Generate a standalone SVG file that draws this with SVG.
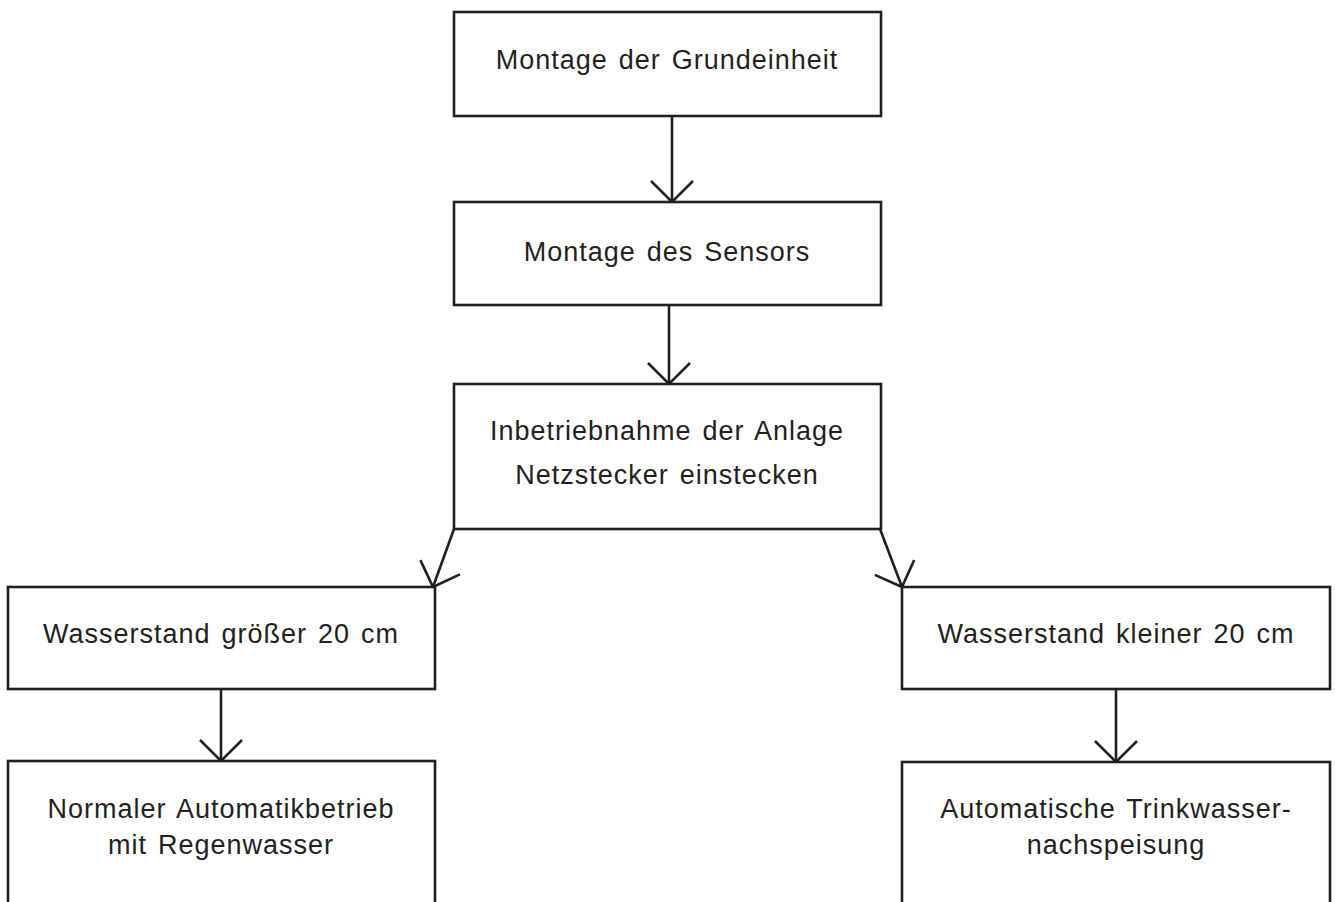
<svg xmlns="http://www.w3.org/2000/svg" width="1335" height="902" viewBox="0 0 1335 902">
<style>
.box{fill:#fff;stroke:#231f20;stroke-width:2.6}
.t{font-family:"Liberation Sans",Arial,sans-serif;font-size:27px;fill:#231f20;text-anchor:middle;letter-spacing:1px;word-spacing:2.5px}
.c{fill:none;stroke:#231f20;stroke-width:2.6}
</style>
<defs>
<marker id="a" markerUnits="userSpaceOnUse" markerWidth="50" markerHeight="50" refX="25" refY="25" orient="auto" viewBox="0 0 50 50" overflow="visible">
<path d="M4,4 L25,25 L4,46" fill="none" stroke="#231f20" stroke-width="2.6"/>
</marker>
</defs>
<rect width="1335" height="902" fill="#fff"/>
<g id="connectors">
<line class="c" x1="672" y1="116" x2="672" y2="202" marker-end="url(#a)"/>
<line class="c" x1="669" y1="305" x2="669" y2="384" marker-end="url(#a)"/>
<line class="c" x1="454" y1="529" x2="433" y2="587" marker-end="url(#a)"/>
<line class="c" x1="880" y1="529" x2="902" y2="587" marker-end="url(#a)"/>
<line class="c" x1="221" y1="689" x2="221" y2="761" marker-end="url(#a)"/>
<line class="c" x1="1116" y1="689" x2="1116" y2="762" marker-end="url(#a)"/>
</g>
<g id="n1"><rect class="box" x="454" y="12" width="427" height="104"/><text class="t" x="667" y="69">Montage der Grundeinheit</text></g>
<g id="n2"><rect class="box" x="454" y="202" width="427" height="103"/><text class="t" x="667" y="261">Montage des Sensors</text></g>
<g id="n3"><rect class="box" x="454" y="384" width="427" height="145"/><text class="t" x="667" y="440">Inbetriebnahme der Anlage</text><text class="t" x="667" y="484">Netzstecker einstecken</text></g>
<g id="n4"><rect class="box" x="8" y="587" width="427" height="102"/><text class="t" x="221" y="643">Wasserstand größer 20 cm</text></g>
<g id="n5"><rect class="box" x="902" y="587" width="428" height="102"/><text class="t" x="1116" y="643">Wasserstand kleiner 20 cm</text></g>
<g id="n6"><rect class="box" x="8" y="761" width="427" height="160"/><text class="t" x="221" y="818">Normaler Automatikbetrieb</text><text class="t" x="221" y="854">mit Regenwasser</text></g>
<g id="n7"><rect class="box" x="902" y="762" width="428" height="160"/><text class="t" x="1116" y="818">Automatische Trinkwasser-</text><text class="t" x="1116" y="854">nachspeisung</text></g>
</svg>
